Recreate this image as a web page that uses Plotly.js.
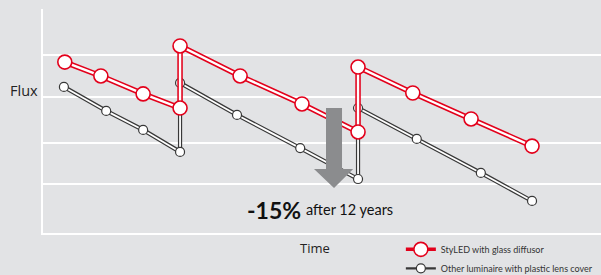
<!DOCTYPE html>
<html>
<head>
<meta charset="utf-8">
<script src="https://cdn.plot.ly/plotly-3.0.1.min.js"></script>
<style>
html,body{margin:0;padding:0;background:#e2e3e5;}
#chart{width:601px;height:275px;}
</style>
</head>
<body>
<div id="chart"></div>
<script>
// Time in years, flux in relative units (0-100)
const styledTime = [0.49, 1.30, 2.25, 3.08, 3.08, 4.43, 5.82, 7.08, 7.08, 8.31, 9.62, 10.99];
const styledFlux = [76.3, 70.1, 62.1, 55.8, 83.5, 70.1, 57.6, 45.1, 74.1, 62.5, 50.9, 38.8];
const otherTime  = [0.47, 1.42, 2.25, 3.08, 3.08, 4.36, 5.78, 7.08, 7.08, 8.40, 9.84, 10.99];
const otherFlux  = [65.2, 54.5, 46.0, 36.2, 67.0, 52.7, 37.9, 24.1, 55.8, 42.0, 26.8, 14.3];
const gridFlux   = [21.9, 40.2, 60.7, 79.5, 100];
const seriesNames = ['StyLED with glass diffusor', 'Other luminaire with plastic lens cover'];
const dropLabel = '-15%';
const dropNote = 'after 12 years';
// arrow decoration outline in axis units (time, flux)
const arrowTime = [6.36, 6.72, 6.72, 6.97, 6.54, 6.09, 6.36];
const arrowFlux = [55.8, 55.8, 28.6, 28.6, 20.1, 28.6, 28.6];

const RED = '#e3001b';
const DARK = '#383838';
const BG = '#e2e3e5';

function series(x, y, color, outer, inner, msize, mline, name) {
  return [
    {x: x, y: y, mode: 'lines', line: {color: color, width: outer}, hoverinfo: 'skip', showlegend: false, cliponaxis: false},
    {x: x, y: y, mode: 'lines+markers', line: {color: '#ffffff', width: inner},
     marker: {size: msize, color: '#ffffff', line: {color: color, width: mline}},
     showlegend: false, name: name, cliponaxis: false},
    {x: [null], y: [null], mode: 'lines+markers', name: name,
     line: {color: color, width: outer - 2},
     marker: {size: msize, color: '#ffffff', line: {color: color, width: mline}}}
  ];
}

const traces = [].concat(
  series(otherTime, otherFlux, DARK, 4.2, 1.8, 9, 1.2, seriesNames[1]),
  series(styledTime, styledFlux, RED, 5.5, 2.4, 14, 1.6, seriesNames[0])
);
// put legend proxies so StyLED is listed first
traces[2].legendrank = 2;
traces[5].legendrank = 1;

let arrowPath = 'M ' + arrowTime.map((t, i) => t + ',' + arrowFlux[i]).join(' L ') + ' Z';

const layout = {
  width: 601, height: 275,
  margin: {l: 43, r: 0, t: 9, b: 42, autoexpand: false},
  paper_bgcolor: BG, plot_bgcolor: BG,
  xaxis: {range: [0, 12.54], showgrid: false, zeroline: false, showline: true,
          linecolor: '#ffffff', linewidth: 2, showticklabels: false, ticks: '', fixedrange: true},
  yaxis: {range: [0, 100], tickvals: gridFlux, showgrid: true, gridcolor: '#ffffff', gridwidth: 2,
          zeroline: false, showline: true, linecolor: '#ffffff', linewidth: 2,
          showticklabels: false, ticks: '', fixedrange: true},
  showlegend: true,
  legend: {xref: 'container', yref: 'container', x: 0.667, xanchor: 'left', y: 0.146, yanchor: 'top',
           bgcolor: 'rgba(0,0,0,0)',
           font: {family: 'Lato, sans-serif', size: 9, color: '#333333'},
           tracegroupgap: 0, itemwidth: 30},
  shapes: [{type: 'path', xref: 'x', yref: 'y', path: arrowPath,
            fillcolor: '#8b8c8e', line: {width: 0}, layer: 'above'}],
  annotations: [
    {xref: 'paper', yref: 'paper', x: -0.034, y: 0.636, xanchor: 'center', yanchor: 'middle',
     text: 'Flux', showarrow: false, font: {family: 'Open Sans, sans-serif', size: 14.5, color: '#222222'}},
    {xref: 'x', yref: 'paper', x: 6.11, y: -0.067, xanchor: 'center', yanchor: 'middle',
     text: 'Time', showarrow: false, font: {family: 'Open Sans, sans-serif', size: 13, color: '#222222'}},
    {xref: 'x', yref: 'y', x: 4.54, y: 10.2, xanchor: 'left', yanchor: 'middle',
     text: '<b>' + dropLabel + '</b>', showarrow: false, font: {family: 'Lato, sans-serif', size: 23, color: '#111111'}},
    {xref: 'x', yref: 'y', x: 5.87, y: 10.6, xanchor: 'left', yanchor: 'middle',
     text: dropNote, showarrow: false, font: {family: 'Lato, sans-serif', size: 14.5, color: '#111111'}}
  ]
};

Plotly.newPlot('chart', traces, layout, {displayModeBar: false, staticPlot: true});
</script>
</body>
</html>
